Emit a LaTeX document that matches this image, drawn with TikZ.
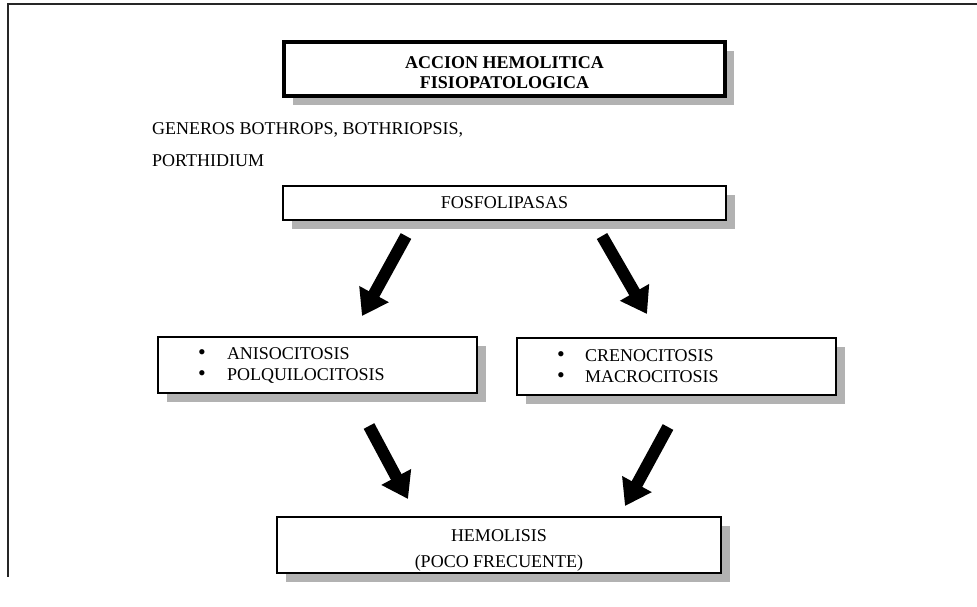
\documentclass[tikz,border=0pt]{standalone}
\usepackage{fontspec}
\setmainfont{Liberation Serif}
\usetikzlibrary{arrows.meta,shadows}
% one bulleted row: a bullet in a fixed-width slot, then the text
\newcommand\bulletrow[2]{\makebox[#1][l]{\smash{\fontsize{22}{20}\selectfont •}}#2}
\begin{document}
\begin{tikzpicture}[x=1pt,y=-1pt,
  shadowed/.style={drop shadow={shadow xshift=9pt,shadow yshift=-9pt,fill=black!30,opacity=1}},
  panel/.style={shadowed,draw=black,fill=white,line width=1.4pt,rectangle,inner sep=0pt,
    align=center,font=\fontsize{18}{20}\selectfont},
  titlepanel/.style={panel,line width=3.5pt},
  listpanel/.style={panel,inner xsep=40pt,text width=239pt,align=left,
    font=\fontsize{18}{21}\selectfont},
  boxtext/.style={inner sep=0pt,align=center,font=\fontsize{18}{20}\selectfont},
  blockarrow/.style={line width=12pt,-{Triangle[length=25pt,width=32pt]}},
  frameline/.style={line width=2pt,black!85},
]
\useasboundingbox (0,0) rectangle (977,606);

% page frame
\draw[frameline] (977,4) -| (8,577);

% title
\node[titlepanel,minimum width=441pt,minimum height=54pt] (title) at (504.5,69) {};
\node[boxtext] (title-text) at (504.5,73)
  {\textbf{ACCION HEMOLITICA}\\\textbf{FISIOPATOLOGICA}};

% genera
\node[anchor=west,align=left,inner sep=0pt,font=\fontsize{18}{32}\selectfont] (genera) at (152,145)
  {GENEROS BOTHROPS, BOTHRIOPSIS,\\PORTHIDIUM};

% enzyme
\node[panel,minimum width=443pt,minimum height=34pt] (enzyme) at (504.5,203) {FOSFOLIPASAS};

% cell changes
\node[listpanel,minimum height=56pt] (left) at (317.5,365)
  {\bulletrow{29pt}{ANISOCITOSIS}\\\bulletrow{29pt}{POLQUILOCITOSIS}};
\node[listpanel,minimum height=57pt] (right) at (676.5,366.5)
  {\bulletrow{28pt}{CRENOCITOSIS}\\\bulletrow{28pt}{MACROCITOSIS}};

% outcome
\node[panel,minimum width=444pt,minimum height=56pt] (hemo) at (499,545) {};
\node[boxtext] (hemo-text) at (499,550) {HEMOLISIS\\[6pt](POCO FRECUENTE)};

% arrow ends
\coordinate (a1s) at (406,236);
\coordinate (a1t) at (362,316);
\coordinate (a2s) at (602,236);
\coordinate (a2t) at (647,314);
\coordinate (a3s) at (369,426);
\coordinate (a3t) at (408,499);
\coordinate (a4s) at (668,427);
\coordinate (a4t) at (625,506);

\draw[blockarrow] (a1s) -- (a1t);
\draw[blockarrow] (a2s) -- (a2t);
\draw[blockarrow] (a3s) -- (a3t);
\draw[blockarrow] (a4s) -- (a4t);
\end{tikzpicture}
\end{document}
